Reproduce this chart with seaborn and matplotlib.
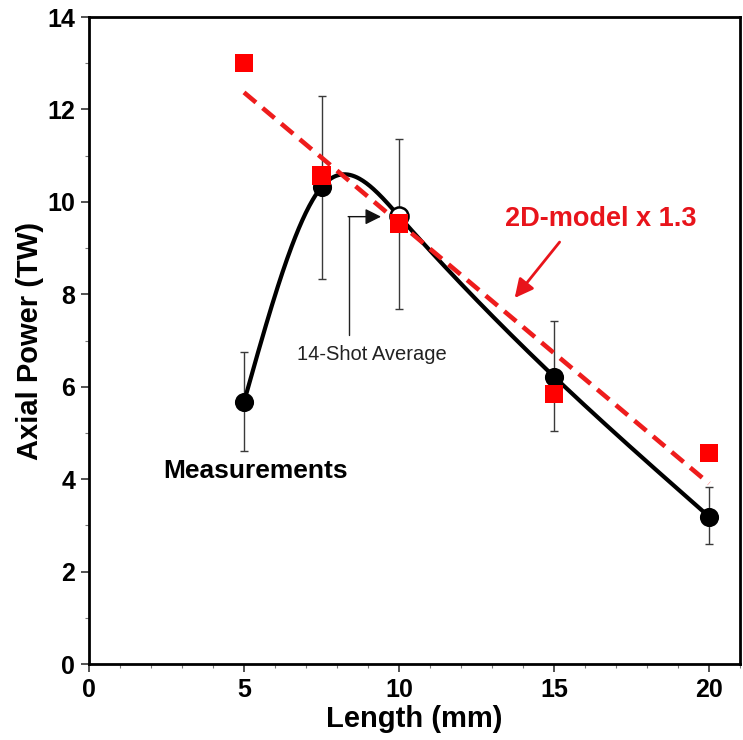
import numpy as np
import pandas as pd
import matplotlib
matplotlib.use("Agg")
import matplotlib.pyplot as plt
import seaborn as sns
from matplotlib.ticker import MultipleLocator

# ---- data ----
length_mm = [5, 7.5, 10, 15, 20]
meas_power = [5.67, 10.32, 9.69, 6.22, 3.19]
meas_err_low = [4.60, 8.33, 7.69, 5.05, 2.60]
meas_err_high = [6.75, 12.29, 11.36, 7.42, 3.82]
meas_open = [False, False, True, False, False]   # 14-shot average point is open
model_power = [13.0, 10.57, 9.53, 5.84, 4.57]     # 2D-model x 1.3

x_ticks = [0, 5, 10, 15, 20]
y_ticks = [0, 2, 4, 6, 8, 10, 12, 14]

sns.set_theme(style="white")
plt.rcParams["font.family"] = ["Liberation Sans", "DejaVu Sans"]
plt.rcParams["text.color"] = "black"
plt.rcParams["axes.labelcolor"] = "black"
plt.rcParams["xtick.color"] = "black"
plt.rcParams["ytick.color"] = "black"

df_meas = pd.DataFrame({"x": length_mm, "y": meas_power,
                        "lo": meas_err_low, "hi": meas_err_high, "open": meas_open})
df_model = pd.DataFrame({"x": length_mm, "y": model_power})


def natural_spline(xk, yk, xs):
    xk = np.asarray(xk, float); yk = np.asarray(yk, float)
    n = len(xk)
    h = np.diff(xk)
    A = np.zeros((n, n)); b = np.zeros(n)
    A[0, 0] = 1; A[-1, -1] = 1
    for i in range(1, n - 1):
        A[i, i - 1] = h[i - 1]
        A[i, i] = 2 * (h[i - 1] + h[i])
        A[i, i + 1] = h[i]
        b[i] = 6 * ((yk[i + 1] - yk[i]) / h[i] - (yk[i] - yk[i - 1]) / h[i - 1])
    M = np.linalg.solve(A, b)
    out = np.empty_like(xs)
    for j, x in enumerate(xs):
        i = min(max(np.searchsorted(xk, x) - 1, 0), n - 2)
        t0 = xk[i + 1] - x; t1 = x - xk[i]
        out[j] = (M[i] * t0**3 + M[i + 1] * t1**3) / (6 * h[i]) \
            + (yk[i] / h[i] - M[i] * h[i] / 6) * t0 \
            + (yk[i + 1] / h[i] - M[i + 1] * h[i] / 6) * t1
    return out


xs = np.linspace(min(length_mm), max(length_mm), 400)
df_curve = pd.DataFrame({"x": xs, "y": natural_spline(length_mm, meas_power, xs)})

fig = plt.figure(figsize=(7.43, 7.40), dpi=100)
ax = fig.add_axes([0.1198, 0.1027, 0.8762, 0.8743])

# error bars
ax.errorbar(df_meas["x"], df_meas["y"],
            yerr=[df_meas["y"] - df_meas["lo"], df_meas["hi"] - df_meas["y"]],
            fmt="none", ecolor="#3a3a3a", elinewidth=1.0, capsize=3, capthick=1.0, zorder=2)

# smooth measurement curve
sns.lineplot(data=df_curve, x="x", y="y", ax=ax, color="black", lw=3.0,
             sort=False, zorder=3, legend=False)

# measurement markers
filled = df_meas[~df_meas["open"]]
opened = df_meas[df_meas["open"]]
sns.scatterplot(data=filled, x="x", y="y", ax=ax, marker="o", s=190,
                color="black", edgecolor="black", linewidth=0, zorder=4, legend=False)
sns.scatterplot(data=opened, x="x", y="y", ax=ax, marker="o", s=170,
                facecolor="white", edgecolor="black", linewidth=1.8, zorder=4, legend=False)

# model fit line and squares
sns.regplot(data=df_model, x="x", y="y", ax=ax, ci=None, scatter=False, truncate=True,
            line_kws=dict(color="#ee1c1c", lw=3.3, ls=(0, (3.4, 1.9)), zorder=5))
sns.scatterplot(data=df_model, x="x", y="y", ax=ax, marker="s", s=175,
                color="#ff0000", edgecolor="none", linewidth=0, zorder=6, legend=False)

# annotations
ax.text(2.41, 4.18, "Measurements", fontsize=19, fontweight="bold", color="black",
        ha="left", va="center")
ax.text(6.71, 6.69, "14-Shot Average", fontsize=14.5, color="#222222",
        ha="left", va="center")
ax.plot([8.38, 8.38], [7.12, 9.68], color="#222222", lw=1.0, zorder=3)
ax.annotate("", xy=(9.42, 9.68), xytext=(8.36, 9.68),
            arrowprops=dict(arrowstyle="-|>", color="#111111", lw=1.0,
                            mutation_scale=24, shrinkA=0, shrinkB=0), zorder=3)
ax.text(13.43, 9.63, "2D-model x 1.3", fontsize=19.5, fontweight="bold", color="#e8141b",
        ha="left", va="center")
ax.annotate("", xy=(13.73, 7.92), xytext=(15.18, 9.13),
            arrowprops=dict(arrowstyle="-|>", color="#e8141b", lw=2.0,
                            mutation_scale=28, shrinkA=0, shrinkB=0), zorder=5)

# axes styling
ax.set_xlim(0, 21)
ax.set_ylim(0, 14)
ax.set_xticks(x_ticks)
ax.set_yticks(y_ticks)
ax.xaxis.set_minor_locator(MultipleLocator(1))
ax.yaxis.set_minor_locator(MultipleLocator(1))
ax.tick_params(which="major", direction="out", length=6, width=1.2, color="#333333",
               labelsize=18, labelcolor="black", pad=4, bottom=True, left=True)
ax.tick_params(which="minor", direction="out", length=3, width=0.8, color="#777777",
               bottom=True, left=True)
for lab in ax.get_xticklabels() + ax.get_yticklabels():
    lab.set_fontweight("bold")
for sp in ax.spines.values():
    sp.set_color("black")
    sp.set_linewidth(2.0)
    sp.set_visible(True)

ax.set_xlabel("Length (mm)", fontsize=21, fontweight="bold", color="black", labelpad=2)
ax.set_ylabel("Axial Power (TW)", fontsize=21, fontweight="bold", color="black", labelpad=2)

fig.savefig("out.png", dpi=100)
